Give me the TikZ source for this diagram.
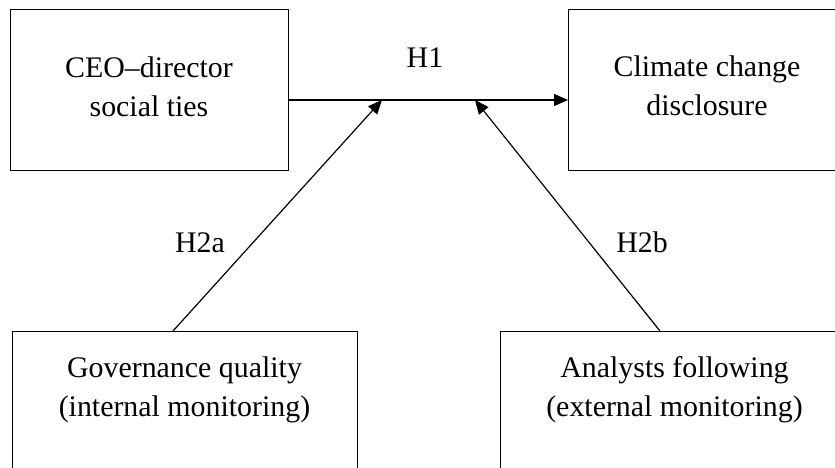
\documentclass[tikz,border=0pt]{standalone}
\usepackage{fontspec}
\setmainfont{Liberation Serif}
\usetikzlibrary{arrows.meta}
\begin{document}
\begin{tikzpicture}[x=1bp,y=-1bp,
  boxshape/.style={draw, line width=1.3bp, rectangle, inner sep=0pt, anchor=north west},
  boxtext/.style={align=center, inner sep=0pt, font=\fontsize{30}{39}\selectfont},
  hyplabel/.style={inner sep=0pt, anchor=base, font=\fontsize{30}{39}\selectfont},
  arr/.style={line width=1.2bp, -{Triangle[length=14bp,width=12bp]}}]
  \useasboundingbox (0,0) rectangle (835,468);
  \clip (0,0) rectangle (835,468);

  % boxes (the right and bottom ones run past the page edge)
  \node[boxshape, minimum width=278bp, minimum height=161bp] (ceo) at (10,9) {};
  \node[boxshape, minimum width=279bp, minimum height=161bp] (ccd) at (568,9) {};
  \node[boxshape, minimum width=345bp, minimum height=160bp] (gov) at (12,331) {};
  \node[boxshape, minimum width=349bp, minimum height=160bp] (ana) at (500,331) {};

  % box texts
  \node[boxtext] (ceotxt) at (149,87) {CEO–director\\social ties};
  \node[boxtext] (ccdtxt) at (707,86) {Climate change\\disclosure};
  \node[boxtext] (govtxt) at (184.5,390) {Governance quality\\(internal monitoring)};
  \node[boxtext] (anatxt) at (674.5,390) {Analysts following\\(external monitoring)};

  % points where the moderating paths meet the main path
  \coordinate (mainy) at (0,100);
  \coordinate (h2ahead) at (382,100);
  \coordinate (h2bhead) at (475,100);
  \coordinate (h2afoot) at (173,331);
  \coordinate (h2bfoot) at (660,331);

  % main effect and moderating effects
  \draw[arr] (ceo.east |- mainy) -- (ccd.west |- mainy);
  \draw[arr] (h2afoot) -- (h2ahead);
  \draw[arr] (h2bfoot) -- (h2bhead);

  % hypothesis labels
  \node[hyplabel] (h1) at (425,68) {H1};
  \node[hyplabel] (h2a) at (200,253) {H2a};
  \node[hyplabel] (h2b) at (642,253) {H2b};
\end{tikzpicture}
\end{document}
